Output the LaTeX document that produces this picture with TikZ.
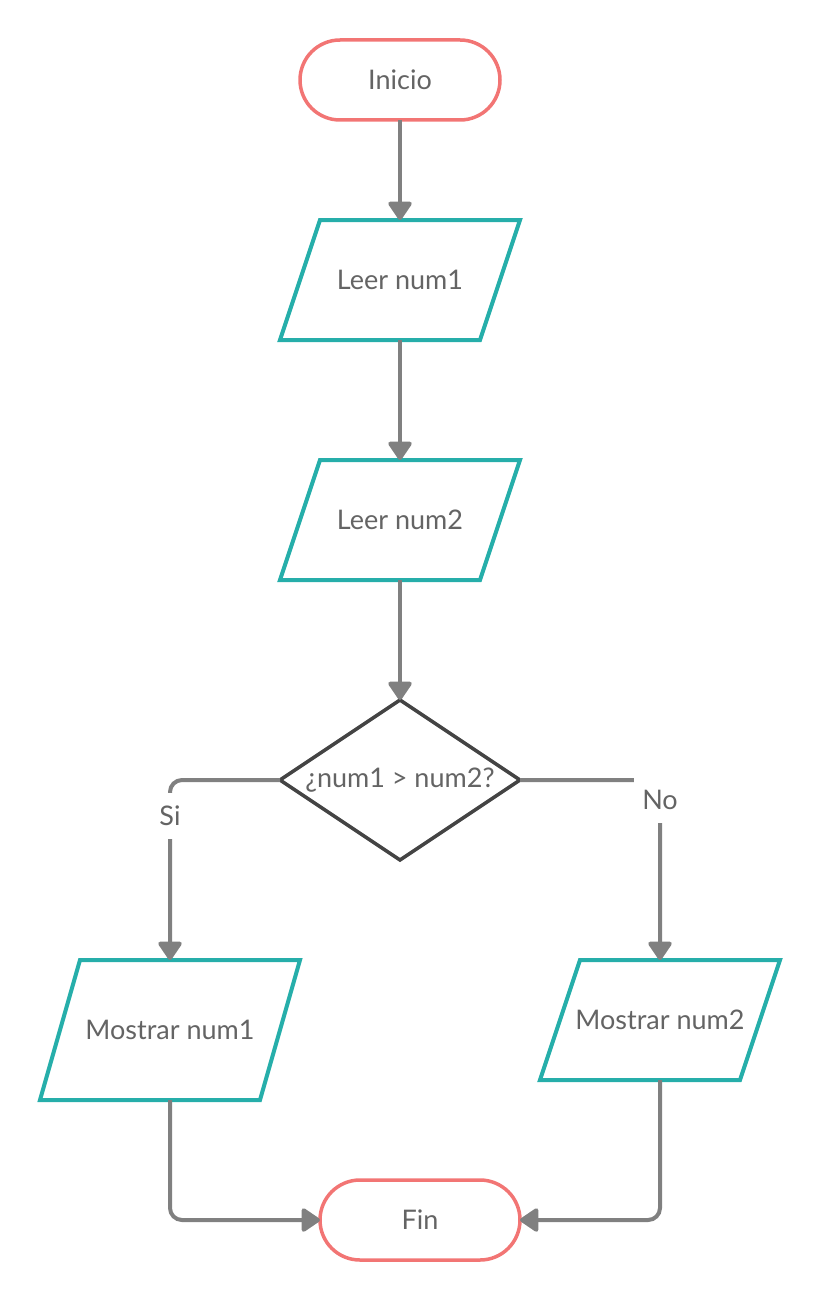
\documentclass[tikz,border=0pt]{standalone}
\usepackage{fontspec}
\setmainfont{Lato}
\usetikzlibrary{shapes.geometric,arrows.meta,positioning}

\definecolor{termred}{RGB}{242,117,116}
\definecolor{ioteal}{RGB}{38,174,170}
\definecolor{linegray}{RGB}{128,128,128}
\definecolor{txtgray}{RGB}{100,100,100}
\definecolor{decgray}{RGB}{68,68,68}

\begin{document}
\begin{tikzpicture}[
    x=1pt, y=1pt,
    font=\fontsize{27}{31}\selectfont, text=txtgray,
    term/.style={rectangle, draw=termred, line width=3.5pt, rounded corners=40pt, minimum width=200pt, minimum height=80pt, outer sep=0pt},
    io/.style={rectangle, minimum width=200pt, minimum height=120pt, outer sep=0pt,
        append after command={\pgfextra{\draw[ioteal, line width=4pt]
            ([xshift=20pt]\tikzlastnode.north west) -- ([xshift=20pt]\tikzlastnode.north east)
            -- ([xshift=-20pt]\tikzlastnode.south east) -- ([xshift=-20pt]\tikzlastnode.south west) -- cycle;}}},
    dec/.style={diamond, draw=decgray, line width=3.5pt, minimum width=240pt, minimum height=160pt, outer sep=0pt, inner sep=0pt},
    flow/.style={-{Triangle[length=20pt,width=26pt,round]}, draw=linegray, line width=4pt, rounded corners=12pt},
    tag/.style={fill=white, sharp corners, inner sep=8pt, minimum height=46pt}
]
\useasboundingbox (0,0) rectangle (821,-1300);

% main column
\node[term] (start) at (400,-80) {Inicio};
\node[io, below=100pt of start] (in1) {Leer num1};
\node[io, below=120pt of in1] (in2) {Leer num2};
\node[dec, below=120pt of in2, label=center:{¿num1 > num2?}] (cmp) {};

% branches
\node[io, below=100pt of cmp, xshift=-230pt, minimum width=220pt, minimum height=140pt] (out1) {Mostrar num1};
\node[io, below=100pt of cmp, xshift=260pt] (out2) {Mostrar num2};
\node[term, below=80pt of out1, xshift=250pt] (stop) {Fin};

\draw[flow] (start) -- (in1);
\draw[flow] (in1) -- (in2);
\draw[flow] (in2) -- (cmp);
\draw[flow] (cmp) -| (out1) node[tag, pos=0.6] {Si};
\draw[flow] (cmp) -| (out2) node[tag, pos=0.556] {No};
\draw[flow] (out1) |- (stop);
\draw[flow] (out2) |- (stop);

\end{tikzpicture}
\end{document}
